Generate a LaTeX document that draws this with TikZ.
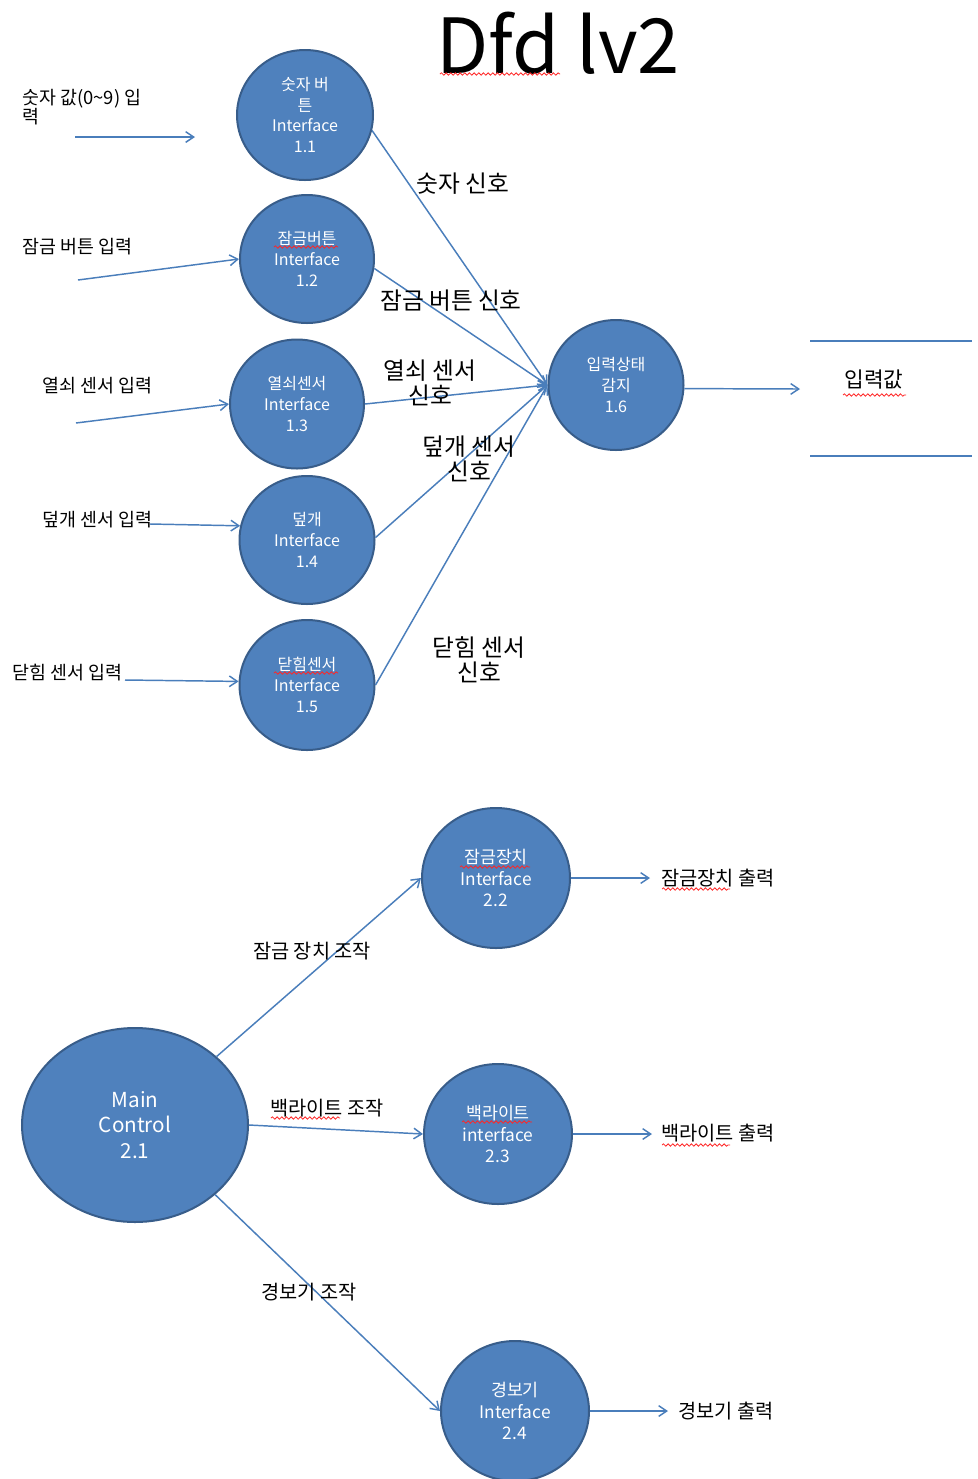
\documentclass[tikz,border=0pt]{standalone}
\usepackage{fontspec}
\setmainfont{Noto Sans CJK KR}
\usetikzlibrary{shapes.geometric,arrows.meta,decorations.pathmorphing}
\definecolor{circfill}{HTML}{4F81BD}
\definecolor{circline}{HTML}{385D8A}
\definecolor{flowc}{HTML}{4A7EBB}
\def\pxu{0.75pt}
\begin{document}
\begin{tikzpicture}[x=0.75pt,y=-0.75pt,
 proc/.style 2 args={ellipse,draw=circline,fill=circfill,line width=1.5pt,text=white,align=center,inner sep=0pt,minimum width=#1*\pxu,minimum height=#2*\pxu,font=\fontsize{12}{15.5}\selectfont},
 flow/.style={draw=flowc,line width=1.1pt,-{Straight Barb[length=6pt,width=8pt,line width=1.1pt]}},
 plainline/.style={draw=flowc,line width=1.1pt},
 lbl/.style={font=\fontsize{13.8}{14.5}\selectfont,anchor=west,align=left,inner sep=0pt},
 sig/.style={font=\fontsize{17.8}{19}\selectfont,align=center,inner sep=0pt},
 outl/.style={font=\fontsize{14.8}{16}\selectfont,inner sep=0pt},
 squig/.style={draw=red!85!white,line width=0.6pt,decorate,decoration={snake,amplitude=0.9pt,segment length=3.5pt}}
]
\fill[white] (0,0) rectangle (978,1479);
\useasboundingbox (0,0) rectangle (978,1479);

% title
\node[font=\fontsize{57}{60}\selectfont,inner sep=0pt] (title) at (558,43) {Dfd lv2};

% level 1 processes
\node[proc={136}{130}] (c11) at (305,115) {숫자 버\\튼\\Interface\\1.1};
\node[proc={134}{128}] (c12) at (307,259) {잠금버튼\\Interface\\1.2};
\node[proc={134}{129}] (c13) at (297,404) {열쇠센서\\Interface\\1.3};
\node[proc={135}{128}] (c14) at (307,540) {덮개\\Interface\\1.4};
\node[proc={135}{130}] (c15) at (307,685) {닫힘센서\\Interface\\1.5};
\node[proc={135}{130}] (c16) at (616,385) {입력상태\\감지\\1.6};

% inputs
\coordinate (i1s) at (75,137);
\coordinate (i1e) at (195,137);
\coordinate (i2s) at (78,280);
\coordinate (i3s) at (76,423);
\coordinate (i4s) at (150,524);
\coordinate (i5s) at (125,680);
\draw[flow] (i1s) -- (i1e);
\draw[flow] (i2s) -- (c12.west);
\draw[flow] (i3s) -- (c13.west);
\draw[flow] (i4s) -- (c14.168);
\draw[flow] (i5s) -- (c15.177);

\node[lbl] (t1) at (22,107) {숫자 값(0\textasciitilde 9) 입\\력};
\node[lbl] (t2) at (22,247) {잠금 버튼 입력};
\node[lbl] (t3) at (42,386) {열쇠 센서 입력};
\node[lbl] (t4) at (42,520) {덮개 센서 입력};
\node[lbl] (t5) at (12,673) {닫힘 센서 입력};

% signals
\draw[flow] (c11.-13) -- (c16.west);
\draw[flow] (c12.-8) -- (c16.west);
\draw[flow] (c13.east) -- (c16.west);
\draw[flow] (c14.2) -- (c16.west);
\draw[flow] (c15.east) -- (c16.west);

\node[sig] (s1) at (463,184) {숫자 신호};
\node[sig] (s2) at (451,301) {잠금 버튼 신호};
\node[sig] (s3) at (430,383) {열쇠 센서\\신호};
\node[sig] (s4) at (469,459) {덮개 센서\\신호};
\node[sig] (s5) at (479,660) {닫힘 센서\\신호};

% data store
\coordinate (dsin) at (800,389);
\draw[flow] (c16.-3) -- (dsin);
\draw[plainline] (810,341) -- (972,341);
\draw[plainline] (810,456) -- (972,456);
\node[font=\fontsize{16}{18}\selectfont,inner sep=0pt] (ds) at (874,380) {입력값};

% level 2 processes
\node[proc={226}{194},font=\fontsize{15.5}{19}\selectfont] (c21) at (135,1125) {Main\\Control\\2.1};
\node[proc={148}{140},font=\fontsize{13}{16}\selectfont] (c22) at (496,878) {잠금장치\\Interface\\2.2};
\node[proc={148}{140},font=\fontsize{13}{16}\selectfont] (c23) at (498,1134) {백라이트\\interface\\2.3};
\node[proc={148}{140},font=\fontsize{13}{16}\selectfont] (c24) at (515,1411) {경보기\\Interface\\2.4};

\draw[flow] (c21.40) -- (c22.west);
\draw[flow] (c21.east) -- (c23.west);
\draw[flow] (c21.-41) -- (c24.west);

\node[outl] (m1) at (312,951) {잠금 장치 조작};
\node[outl] (m2) at (327,1108) {백라이트 조작};
\node[outl] (m3) at (309,1292) {경보기 조작};

\coordinate (o1) at (650,878);
\coordinate (o2) at (652,1134);
\coordinate (o3) at (668,1411);
\draw[flow] (c22.east) -- (o1);
\draw[flow] (c23.east) -- (o2);
\draw[flow] (c24.east) -- (o3);

\node[outl] (p1) at (718,878) {잠금장치 출력};
\node[outl] (p2) at (718,1133) {백라이트 출력};
\node[outl] (p3) at (726,1411) {경보기 출력};

% spell-check marks
\draw[squig] (440,74) -- (560,74);
\draw[squig] (274,247) -- (338,247);
\draw[squig] (274,673) -- (338,673);
\draw[squig] (843,395) -- (906,395);
\draw[squig] (460,867) -- (530,867);
\draw[squig] (662,889) -- (730,889);
\draw[squig] (462,1122) -- (532,1122);
\draw[squig] (271,1118) -- (340,1118);
\draw[squig] (662,1145) -- (730,1145);
\end{tikzpicture}
\end{document}
